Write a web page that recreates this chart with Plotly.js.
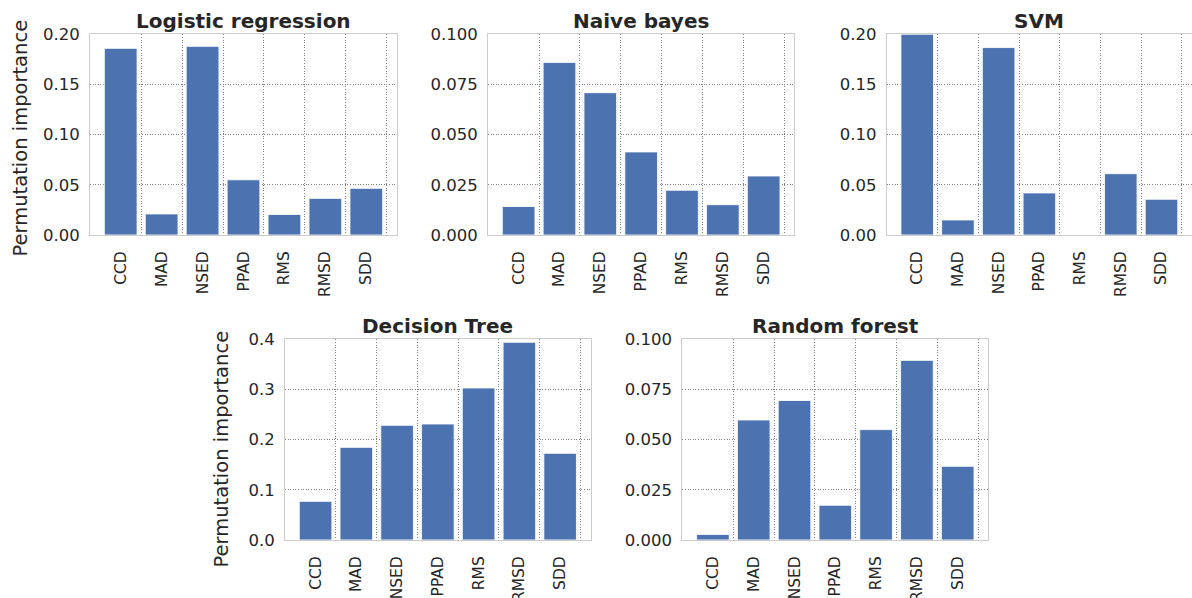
<!DOCTYPE html>
<html>
<head>
<meta charset="utf-8">
<script src="https://cdn.plot.ly/plotly-3.0.1.min.js"></script>
<style>html,body{margin:0;padding:0;background:#fff;}#chart{width:1192px;height:598px;}</style>
</head>
<body>
<div id="chart"></div>
<script>
// ---- data ----
const features = ["CCD", "MAD", "NSED", "PPAD", "RMS", "RMSD", "SDD"];
const modelTitles = ["Logistic regression", "Naive bayes", "SVM", "Decision Tree", "Random forest"];
const logisticRegression = [0.186, 0.021, 0.188, 0.055, 0.0205, 0.0365, 0.0465];
const naiveBayes = [0.0142, 0.086, 0.0709, 0.0414, 0.0223, 0.0151, 0.0294];
const svm = [0.200, 0.015, 0.1868, 0.0419, 0.0, 0.0611, 0.0356];
const decisionTree = [0.077, 0.1847, 0.2286, 0.2312, 0.303, 0.394, 0.1728];
const randomForest = [0.0028, 0.0598, 0.0695, 0.0173, 0.055, 0.0895, 0.0367];
const yTickVals = {
  lr: [0, 0.05, 0.10, 0.15, 0.20],
  nb: [0, 0.025, 0.05, 0.075, 0.10],
  svm: [0, 0.05, 0.10, 0.15, 0.20],
  dt: [0, 0.1, 0.2, 0.3, 0.4],
  rf: [0, 0.025, 0.05, 0.075, 0.10]
};
const yTitle = "Permutation importance";

// ---- styling / layout ----
const W = 1192, H = 598;
const TXT = "#262626";
const FONT = "DejaVu Sans";
const BAR = "#4C72B0";

const series = [logisticRegression, naiveBayes, svm, decisionTree, randomForest];
const tickKeys = ["lr", "nb", "svm", "dt", "rf"];
const yFormats = [".2f", ".3f", ".2f", ".1f", ".3f"];
// pixel boxes [left, right, top, bottom]
const boxes = [
  [90, 397, 34.3, 235],
  [488, 794.3, 34.3, 235],
  [886.7, 1192, 34.3, 235],
  [285, 590.7, 339.3, 540],
  [682.3, 988.3, 339.3, 540]
];

const xIdx = features.map((f, i) => i);
const gridVals = features.map((f, i) => i + 0.5);

const data = [];
const layout = {
  width: W, height: H,
  margin: {l: 0, r: 0, t: 0, b: 0},
  paper_bgcolor: "#fff", plot_bgcolor: "#fff",
  showlegend: false,
  font: {family: FONT, color: TXT, size: 16},
  bargap: 0.2,
  annotations: []
};

series.forEach((vals, k) => {
  const n = k + 1;
  const xa = n === 1 ? "x" : "x" + n;
  const ya = n === 1 ? "y" : "y" + n;
  const [l, r, t, b] = boxes[k];
  data.push({
    type: "bar", x: xIdx, y: vals, xaxis: xa, yaxis: ya,
    width: 0.8,
    marker: {color: BAR, line: {color: "rgba(255,255,255,0.85)", width: 1}},
    hoverinfo: "x+y"
  });
  const xKey = n === 1 ? "xaxis" : "xaxis" + n;
  const yKey = n === 1 ? "yaxis" : "yaxis" + n;
  layout[xKey] = {
    domain: [l / W, Math.min(1, r / W)],
    anchor: ya,
    range: [-0.75, features.length - 0.25],
    tickmode: "array", tickvals: xIdx, ticktext: features,
    tickangle: -90, ticks: "", ticklabelstandoff: 9,
    tickfont: {size: 15.5, color: TXT, family: FONT},
    showgrid: false, zeroline: false,
    showline: true, mirror: true, linecolor: "#cccccc", linewidth: 1,
    minor: {tickmode: "array", tickvals: gridVals, showgrid: true, gridcolor: "#808080", gridwidth: 1, griddash: "1px,1.6px", ticks: ""},
    fixedrange: true
  };
  const tv = yTickVals[tickKeys[k]];
  layout[yKey] = {
    domain: [1 - b / H, 1 - t / H],
    anchor: xa,
    range: [0, tv[tv.length - 1]],
    tickmode: "array", tickvals: tv,
    tickformat: yFormats[k],
    ticks: "", ticklabelstandoff: 6,
    tickfont: {size: 16.5, color: TXT, family: FONT},
    showgrid: true, gridcolor: "#808080", gridwidth: 1, griddash: "1px,1.6px",
    zeroline: false,
    showline: true, mirror: true, linecolor: "#cccccc", linewidth: 1,
    fixedrange: true
  };
  layout.annotations.push({
    text: "<b>" + modelTitles[k] + "</b>",
    xref: "paper", yref: "paper",
    x: ((l + Math.min(r, W)) / 2) / W, y: 1 - t / H,
    xanchor: "center", yanchor: "bottom", yshift: -1,
    showarrow: false,
    font: {size: 20, color: TXT, family: FONT}
  });
});

// y-axis titles (left column of each row)
layout.annotations.push({
  text: yTitle, xref: "paper", yref: "paper",
  x: 20 / W, y: 1 - 138.5 / H, xanchor: "center", yanchor: "middle",
  textangle: -90, showarrow: false, font: {size: 19.5, color: TXT, family: FONT}
});
layout.annotations.push({
  text: yTitle, xref: "paper", yref: "paper",
  x: 221 / W, y: 1 - 449.5 / H, xanchor: "center", yanchor: "middle",
  textangle: -90, showarrow: false, font: {size: 19.5, color: TXT, family: FONT}
});

Plotly.newPlot("chart", data, layout, {displayModeBar: false, staticPlot: true});
</script>
</body>
</html>
